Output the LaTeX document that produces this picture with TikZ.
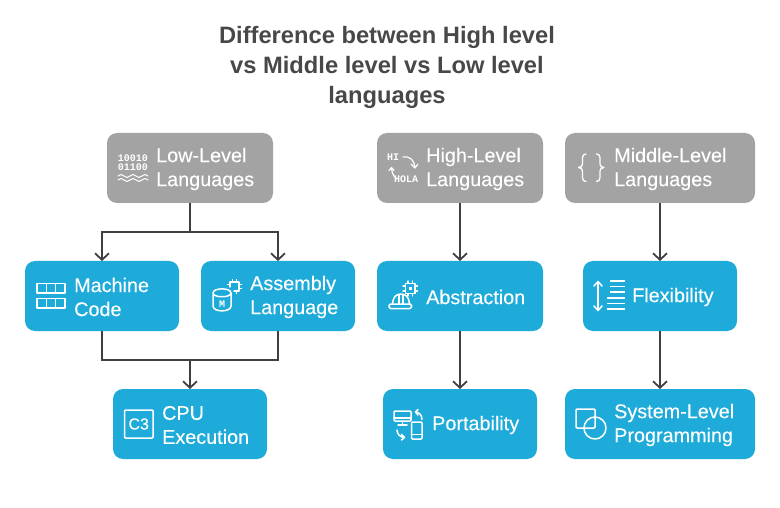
\documentclass[tikz,border=0pt]{standalone}
\usepackage{fontspec}
\setmainfont{Liberation Sans}
\newfontfamily\labelfont[FakeBold=0.12]{Liberation Sans}
\newfontfamily\iconmono{Liberation Mono}
\usetikzlibrary{arrows.meta}
\definecolor{boxgray}{HTML}{A3A3A3}
\definecolor{boxblue}{HTML}{1EABDA}
\definecolor{titlegray}{HTML}{484848}
\definecolor{linkgray}{HTML}{404040}
\tikzset{
  x=1pt,y=-1pt,
  box/.style={draw=none,rounded corners=10pt,minimum height=70pt,inner sep=0pt,outer sep=0pt},
  grayw/.style={box,fill=boxgray,minimum width=166pt},
  graywide/.style={box,fill=boxgray,minimum width=190pt},
  bluew/.style={box,fill=boxblue,minimum width=154pt},
  bluewide/.style={box,fill=boxblue,minimum width=166pt},
  bluemax/.style={box,fill=boxblue,minimum width=190pt},
  lbl/.style={anchor=west,inner sep=0pt,text=white,align=left,font=\labelfont\fontsize{19.8}{24}\selectfont},
  titletext/.style={inner sep=0pt,align=center,text=titlegray,font=\fontsize{23.7}{30}\bfseries\selectfont},
  link/.style={draw=linkgray,line width=1.8pt},
  arr/.style={link,-{Straight Barb[length=6.5pt,width=14pt,line width=1.8pt]}},
  ic/.style={draw=white,line width=1.5pt,line join=round,line cap=round},
  ictxt/.style={inner sep=0pt,text=white},
}
\begin{document}
\begin{tikzpicture}
\useasboundingbox (0,0) rectangle (780,508);
\node[titletext] (title) at (387,67) {Difference between High level\\vs Middle level vs Low level\\languages};
% boxes
\node[grayw] (low) at (190,168) {};
\node[grayw] (high) at (460,168) {};
\node[graywide] (mid) at (660,168) {};
\node[bluew] (mach) at (102,296) {};
\node[bluew] (asm) at (278,296) {};
\node[bluewide] (abs) at (460,296) {};
\node[bluew] (flex) at (660,296) {};
\node[bluew] (cpu) at (190,424) {};
\node[bluew] (port) at (460,424) {};
\node[bluemax] (sys) at (660,424) {};
% labels
\node[lbl] (lowt) at (156,169) {Low-Level\\Languages};
\node[lbl] (hight) at (426,169) {High-Level\\Languages};
\node[lbl] (midt) at (614,169) {Middle-Level\\Languages};
\node[lbl] (macht) at (74,297) {Machine\\Code};
\node[lbl] (asmt) at (250,297) {Assembly\\Language};
\node[lbl] (abst) at (426,297) {Abstraction};
\node[lbl] (flext) at (632,297) {Flexibility};
\node[lbl] (cput) at (162,425) {CPU\\Execution};
\node[lbl] (portt) at (432,425) {Portability};
\node[lbl] (syst) at (614,425) {System-Level\\Programming};
% connectors
\coordinate (lowsplit) at (190,232);
\coordinate (join) at (190,360);
\draw[arr] (low.south) -- (lowsplit) -| (mach.north);
\draw[arr] (lowsplit) -| (asm.north);
\draw[link] (mach.south) |- (join);
\draw[link] (asm.south) |- (join);
\draw[arr] (join) -- (cpu.north);
\draw[arr] (high.south) -- (abs.north);
\draw[arr] (abs.south) -- (port.north);
\draw[arr] (mid.south) -- (flex.north);
\draw[arr] (flex.south) -- (sys.north);
% low icon
\node[ictxt,font=\iconmono\bfseries\fontsize{10}{10}\selectfont] (ic1a) at (133,158) {10010};
\node[ictxt,font=\iconmono\bfseries\fontsize{10}{10}\selectfont] (ic1b) at (133,167.5) {01100};
\foreach \yy in {176,180}{
  \draw[ic,line width=.9pt] (118,\yy) .. controls (120,\yy-2) and (122,\yy-2) .. (124,\yy) .. controls (126,\yy+2) and (128,\yy+2) .. (130,\yy) .. controls (132,\yy-2) and (134,\yy-2) .. (136,\yy) .. controls (138,\yy+2) and (140,\yy+2) .. (142,\yy) .. controls (144,\yy-2) and (146,\yy-2) .. (148,\yy);
}
% high icon
\node[ictxt,font=\iconmono\bfseries\fontsize{10}{10}\selectfont] (ic2a) at (393,157) {HI};
\node[ictxt,font=\iconmono\bfseries\fontsize{10}{10}\selectfont] (ic2b) at (406,179.5) {HOLA};
\draw[ic,line width=1.2pt] (403,157) .. controls (410,156) and (414,160) .. (415,167);
\draw[ic,line width=1.2pt] (411,164) -- (415,168) -- (418,164);
\draw[ic,line width=1.2pt] (396,178) .. controls (393,176) and (392,172) .. (391.5,168);
\draw[ic,line width=1.2pt] (389,170.5) -- (391.5,167.5) -- (394,170.5);
% middle icon
\draw[ic,line width=1.3pt] (586,154) .. controls (581,154) and (583,160) .. (582.5,164) .. controls (582.5,166) and (581,167.5) .. (578.5,167.5) .. controls (581,167.5) and (582.5,169) .. (582.5,171) .. controls (583,175) and (581,181.5) .. (586,181.5);
\draw[ic,line width=1.3pt] (596.5,154) .. controls (601.5,154) and (599.5,160) .. (600,164) .. controls (600,166) and (601.5,167.5) .. (604,167.5) .. controls (601.5,167.5) and (600,169) .. (600,171) .. controls (599.5,175) and (601.5,181.5) .. (596.5,181.5);
% machine icon
\draw[ic,line cap=butt] (37,283.5) rectangle (65,293);
\draw[ic,line cap=butt] (37,298.5) rectangle (65,308);
\foreach \xx in {46.3,55.6}{
  \draw[ic,line cap=butt] (\xx,283.5) -- (\xx,293);
  \draw[ic,line cap=butt] (\xx,298.5) -- (\xx,308);
}
% assembly icon
\draw[ic] (213,293) .. controls (213,287.5) and (231,287.5) .. (231,293) .. controls (231,298) and (213,298) .. (213,293) -- (213,306) .. controls (213,312.5) and (231,312.5) .. (231,306) -- (231,293);
\node[ictxt,font=\iconmono\bfseries\fontsize{10}{10}\selectfont] (ic4) at (222,304) {M};
\draw[ic] (230,287) -- (230,282) -- (239,282) -- (239,291) -- (234,291);
\foreach \pp in {232.5,236.5}{
  \draw[ic,line width=1.1pt] (\pp,282) -- (\pp,279.5);
}
\draw[ic,line width=1.1pt] (236.5,291) -- (236.5,293.5);
\draw[ic,line width=1.1pt] (239,284.5) -- (241.5,284.5);
\draw[ic,line width=1.1pt] (239,288.5) -- (241.5,288.5);
\draw[ic,line width=1.1pt] (230,284.5) -- (227.5,284.5);
% abstraction icon
\draw[ic] (392.5,304) .. controls (393,297) and (396,294) .. (401,294) .. controls (406,294) and (409,297) .. (409.5,304);
\draw[ic,rounded corners=1.5pt] (389,304) rectangle (411.5,308.5);
\draw[ic] (399,295) -- (399,303.5);
\draw[ic] (403,295) -- (403,303.5);
\draw[ic] (405.5,283.5) rectangle (415,293.5);
\fill[white] (409,287.2) rectangle (411.5,289.8);
\foreach \pp in {408,412.5}{
  \draw[ic,line width=1.1pt] (\pp,283.5) -- (\pp,281);
  \draw[ic,line width=1.1pt] (\pp,293.5) -- (\pp,296);
}
\foreach \pp in {286,291}{
  \draw[ic,line width=1.1pt] (405.5,\pp) -- (403,\pp);
  \draw[ic,line width=1.1pt] (415,\pp) -- (417.5,\pp);
}
% flexibility icon
\draw[ic] (598,282) -- (598,310);
\draw[ic] (594,286) -- (598,281.5) -- (602,286);
\draw[ic] (594,306) -- (598,310.5) -- (602,306);
\foreach \yy/\xa in {281/610,286.5/610,292/610,298/607,303.5/607,309/607}{
  \draw[ic,line cap=butt] (\xa,\yy) -- (625,\yy);
}
% cpu icon
\draw[ic,rounded corners=1pt] (124.5,410) rectangle (153,438);
\node[ictxt,font=\labelfont\fontsize{16}{16}\selectfont] (ic8) at (138.7,424) {C3};
% portability icon
\draw[ic,rounded corners=1pt] (394,411) rectangle (411,421);
\draw[ic] (394,418) -- (411,418);
\draw[ic] (402.5,421) -- (402.5,425);
\draw[ic] (398,425) -- (407,425);
\draw[ic,rounded corners=1pt] (411.5,422) rectangle (422,439);
\draw[ic] (411.5,434.5) -- (422,434.5);
\draw[ic] (422,419.5) .. controls (422,415) and (419,412.5) .. (416,412);
\draw[ic] (418,409.5) -- (415.5,412) -- (418,415);
\draw[ic] (397,430) .. controls (397,434) and (400,437) .. (404,437.5);
\draw[ic] (401.5,434.5) -- (404.5,437.5) -- (401.5,440);
% system icon
\draw[ic,rounded corners=1pt] (576,409) rectangle (595,428);
\draw[ic] (595,428) circle[radius=11];
\end{tikzpicture}
\end{document}
